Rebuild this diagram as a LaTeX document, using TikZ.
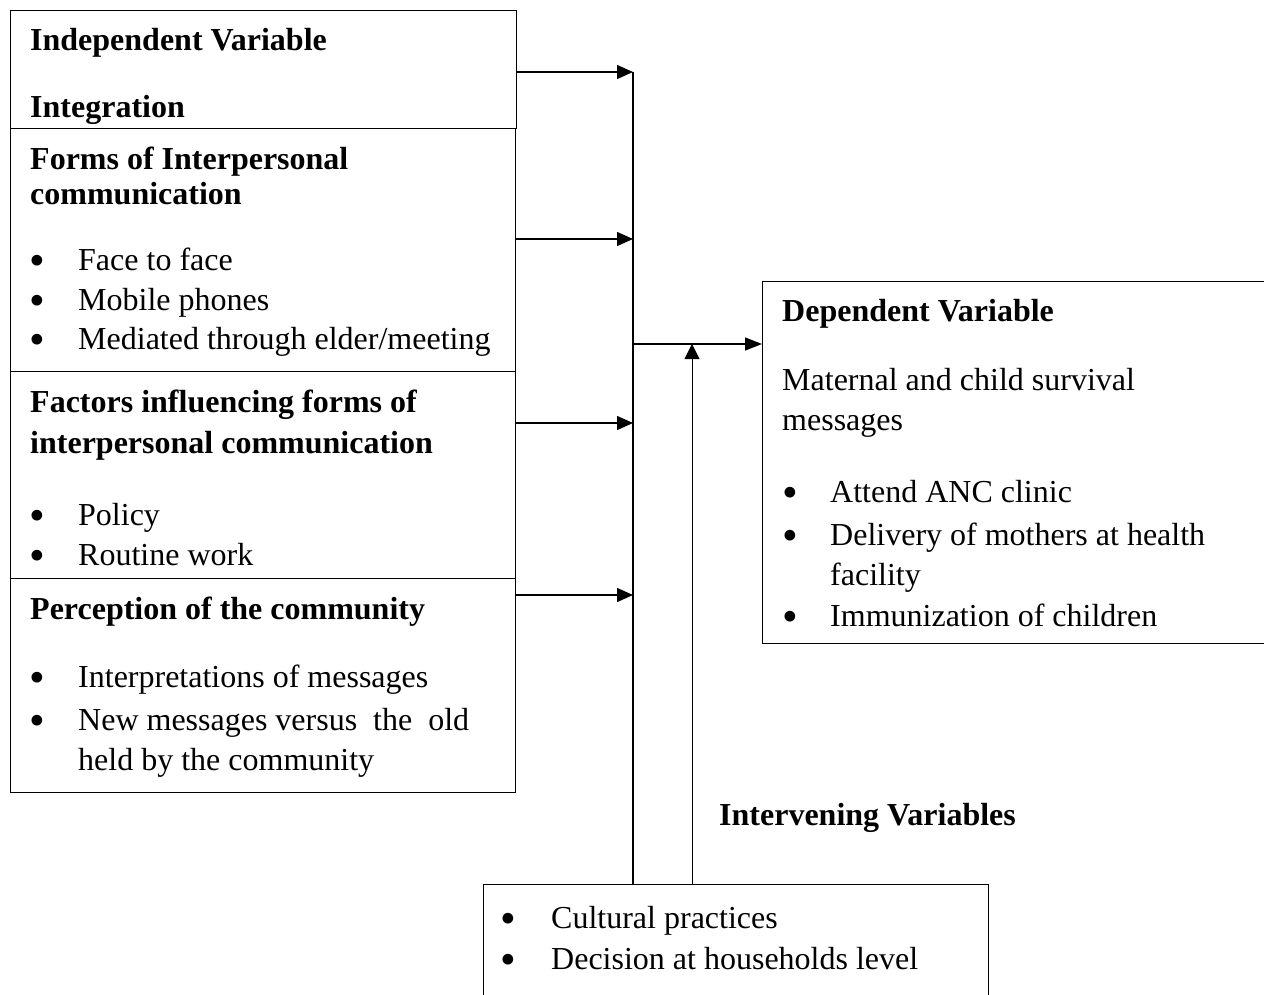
\documentclass[tikz,border=0pt]{standalone}
\usepackage{fontspec}
\setmainfont{Liberation Serif}
\usetikzlibrary{arrows.meta,positioning,calc}

\begin{document}
\begin{tikzpicture}[x=1pt,y=-1pt,font=\fontsize{32}{38}\selectfont,
  box/.style={draw,line width=1pt,inner sep=0pt,anchor=north west},
  head/.style={anchor=base west,inner sep=0pt,yshift=-2pt,font=\fontsize{32}{38}\selectfont\bfseries},
  txt/.style={anchor=base west,inner sep=0pt,yshift=-2pt},
  dot/.style={anchor=base,inner sep=0pt,yshift=-2pt},
  arr/.style={-{Triangle[length=16pt,width=14pt]},line width=1.4pt}]
\useasboundingbox (0,0) rectangle (1264,994);
% boxes
\node[box,minimum width=506pt,minimum height=118pt] (indep) at (10,10) {};
\node[box,minimum width=505pt,minimum height=243pt] (forms) at (10,128) {};
\node[box,minimum width=505pt,minimum height=207pt] (factors) at (10,371) {};
\node[box,minimum width=505pt,minimum height=214pt] (percep) at (10,578) {};
\node[box,minimum width=540pt,minimum height=362pt] (dep) at (762,281) {};
\node[box,minimum width=505pt,minimum height=140pt] (interv) at (483,884) {};
% headings
\foreach \nm/\x/\y/\t in {h1/30/48/Independent Variable, h2/30/115/Integration,
    h3/30/167/Forms of Interpersonal, h4/30/202/communication,
    h5/30/410/Factors influencing forms of, h6/30/451/interpersonal communication,
    h7/30/617/Perception of the community, h8/782/319/Dependent Variable,
    h9/719/823/Intervening Variables}
  \node[head] (\nm) at (\x,\y) {\t};
% plain lines
\foreach \nm/\x/\y/\t in {p1/782/388/Maternal and child survival, p2/782/428/messages,
    p3/78/768/held by the community, p4/830/583/facility}
  \node[txt] (\nm) at (\x,\y) {\t};
% bullet lines
\foreach \nm/\bx/\x/\y/\t in {b1/37/78/268/Face to face, b2/37/78/308/Mobile phones,
    b3/37/78/347/{Mediated through elder/meeting}, b4/37/78/523/Policy,
    b5/37/78/563/Routine work, b6/37/78/685/Interpretations of messages,
    b7/37/78/728/{New messages versus\ \ the\ \ old}, b8/790/830/500/Attend ANC clinic,
    b9/790/830/543/Delivery of mothers at health, b10/790/830/624/Immunization of children,
    b11/508/551/926/Cultural practices, b12/508/551/967/Decision at households level}
{
  \node[dot] (\nm d) at (\bx,\y) {\raisebox{-5pt}[0pt][0pt]{\scalebox{1.4}{\textbullet}}};
  \node[txt] (\nm) at (\x,\y) {\t};
}
% connectors
\coordinate (bustop) at (633,72);
\draw[line width=2pt] (bustop) -- (bustop |- interv.north);
\foreach \b/\y in {indep/72,forms/239,factors/423,percep/595}
  \draw[arr] (\b.east |- 0,\y) -- (bustop |- 0,\y);
\draw[-{Triangle[length=17pt,width=13pt]},line width=1.4pt] (bustop |- 0,344) -- (dep.west |- 0,344);
\draw[-{Triangle[length=15pt,width=15pt]},line width=1pt] (interv.north -| 692,0) -- (692,344);
\end{tikzpicture}
\end{document}
